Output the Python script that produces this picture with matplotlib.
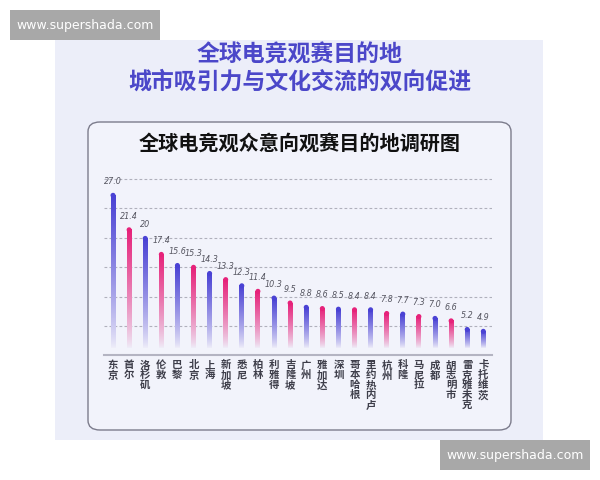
import matplotlib.pyplot as plt
import matplotlib.colors as mcolors
from matplotlib.patches import Rectangle, FancyBboxPatch
import numpy as np

plt.rcParams['font.family'] = ['Noto Sans CJK SC', 'DejaVu Sans']

# 数据
cities = ['东京', '首尔', '洛杉矶', '伦敦', '巴黎', '北京', '上海', '新加坡', '悉尼', '柏林',
          '利雅得', '吉隆坡', '广州', '雅加达', '深圳', '哥本哈根', '里约热内卢', '杭州', '科隆',
          '马尼拉', '成都', '胡志明市', '雷克雅未克', '卡托维茨']
values = [27.0, 21.4, 20, 17.4, 15.6, 15.3, 14.3, 13.3, 12.3, 11.4,
          10.3, 9.5, 8.8, 8.6, 8.5, 8.4, 8.4, 7.8, 7.7,
          7.3, 7.0, 6.6, 5.2, 4.9]
value_labels = ['27.0', '21.4', '20', '17.4', '15.6', '15.3', '14.3', '13.3', '12.3', '11.4',
                '10.3', '9.5', '8.8', '8.6', '8.5', '8.4', '8.4', '7.8', '7.7',
                '7.3', '7.0', '6.6', '5.2', '4.9']
title1 = '全球电竞观赛目的地'
title2 = '城市吸引力与文化交流的双向促进'
chart_title = '全球电竞观众意向观赛目的地调研图'
watermark = 'www.supershada.com'

BLUE = '#4a42d4'
PINK = '#e6227a'
colors = [BLUE if i % 2 == 0 else PINK for i in range(len(values))]
colors[-1] = BLUE

fig = plt.figure(figsize=(6, 4.8), dpi=100)
fig.patch.set_facecolor('white')

def px(x0, y0, x1, y1):
    # 像素框 -> 图坐标
    return x0 / 600, 1 - y1 / 480, (x1 - x0) / 600, (y1 - y0) / 480

# 背景面板
x, y, w, h = px(55, 40, 543, 440)
fig.patches.append(Rectangle((x, y), w, h, transform=fig.transFigure,
                             facecolor='#eceef9', edgecolor='none', zorder=-3))
# 内框
x, y, w, h = px(88, 122, 511, 430)
fig.patches.append(FancyBboxPatch((x, y), w, h, transform=fig.transFigure,
                                  boxstyle='round,pad=0,rounding_size=0.02',
                                  facecolor='#f2f3fb', edgecolor='#7c7c8c', lw=1.0, zorder=-2))

# 水印
for (x0, y0, x1, y1) in [(10, 10, 160, 40), (440, 440, 590, 470)]:
    x, y, w, h = px(x0, y0, x1, y1)
    fig.patches.append(Rectangle((x, y), w, h, transform=fig.transFigure,
                                 facecolor='#a8a8a8', edgecolor='none', zorder=2))
    fig.text(x + w / 2, y + h / 2, watermark, color='white', fontsize=9,
             family='DejaVu Sans', ha='center', va='center', zorder=3)

# 标题
fig.text(0.5, 1 - 55 / 480, title1, fontsize=16.5, fontweight='bold', color='#4b47c9',
         ha='center', va='center')
fig.text(0.5, 1 - 82 / 480, title2, fontsize=16.5, fontweight='bold', color='#4b47c9',
         ha='center', va='center')
fig.text(300 / 600, 1 - 143 / 480, chart_title, fontsize=14.5, fontweight='bold', color='#111111',
         ha='center', va='center')

# 图表区
x, y, w, h = px(104, 175, 492, 355)
ax = fig.add_axes([x, y, w, h])
ax.set_facecolor('none')

xs = np.arange(len(values))
bw = 0.31
cap = 0.4
base = 1.8
light = np.array(mcolors.to_rgb('#efeef9'))
t = np.linspace(0, 1, 200)[:, None]
for xi, v, c in zip(xs, values, colors):
    rgb = np.array(mcolors.to_rgb(c))
    f = t ** 0.8
    img = (rgb[None, :] * f + light[None, :] * (1 - f))[:, None, :]
    ax.imshow(img, extent=[xi - bw / 2, xi + bw / 2, base, v - cap], origin='lower',
              aspect='auto', zorder=3, interpolation='bilinear')
    ax.scatter([xi], [v - cap], s=13, color=c, edgecolors='none', zorder=3)

for xi, v, lab in zip(xs, values, value_labels):
    ax.annotate(lab, (xi, v), xytext=(0, 8), textcoords='offset points', ha='center',
                va='center', fontsize=5.8, style='italic', color='#555560', family='DejaVu Sans')

for xi, name in zip(xs, cities):
    ax.text(xi, -0.03, '\n'.join(name), transform=ax.get_xaxis_transform(), ha='center',
            va='top', fontsize=7.5, fontweight='bold', color='#3e3e4a', linespacing=0.98)

ax.set_xlim(-0.56, 23.54)
ax.set_ylim(0.65, 29.9)
ax.set_yticks([5.3, 10.1, 14.9, 19.7, 24.5, 29.3])
ax.grid(axis='y', linestyle=(0, (2.5, 2)), color='#b0b0bc', lw=0.8)
ax.set_axisbelow(True)
ax.tick_params(left=False, bottom=False, labelleft=False, labelbottom=False)
for s in ['top', 'right', 'left']:
    ax.spines[s].set_visible(False)
ax.spines['bottom'].set_color('#b4b4c2')
ax.spines['bottom'].set_linewidth(1.5)

fig.savefig('out.png', dpi=100)
